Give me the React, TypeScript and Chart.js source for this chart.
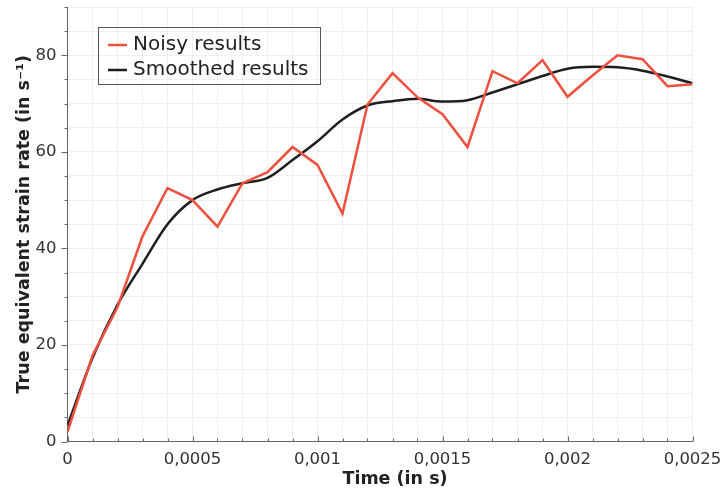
import React, { useEffect, useRef } from "react";
import { Chart, registerables } from "chart.js";

Chart.register(...registerables);

const times = [
  0, 0.0001, 0.0002, 0.0003, 0.0004, 0.0005, 0.0006, 0.0007, 0.0008, 0.0009,
  0.001, 0.0011, 0.0012, 0.0013, 0.0014, 0.0015, 0.0016, 0.0017, 0.0018, 0.0019,
  0.002, 0.0021, 0.0022, 0.0023, 0.0024, 0.0025,
];
const noisy = [
  2, 17.8, 27.8, 42.5, 52.5, 50, 44.5, 53.5, 55.8, 61,
  57.3, 47.2, 69.8, 76.3, 71.3, 67.8, 61, 76.7, 74.2, 79,
  71.4, 75.8, 80, 79.2, 73.6, 74,
];
const smoothed = [
  3.3, 17.3, 28.3, 36.8, 45, 50, 52.2, 53.5, 54.6, 58.3,
  62.2, 66.7, 69.6, 70.5, 71, 70.4, 70.7, 72.3, 74, 75.7,
  77.2, 77.6, 77.5, 76.8, 75.6, 74.2,
];
const seriesNames = ["Noisy results", "Smoothed results"];
const xMajorTicks = [0, 0.0005, 0.001, 0.0015, 0.002, 0.0025];
const xTickLabels = ["0", "0,0005", "0,001", "0,0015", "0,002", "0,0025"];
const yMajorTicks = [0, 20, 40, 60, 80];
const yTickLabels = ["0", "20", "40", "60", "80"];
const xTitle = "Time (in s)";
const yTitle = "True equivalent strain rate (in s\u207B\u00B9)";

const RED = "#ee5040";
const BLACK = "#1e1e1e";
const FONT = "'DejaVu Sans', sans-serif";

function labelFor(value: number, majors: number[], labels: string[]) {
  const i = majors.findIndex((m) => Math.abs(m - value) < 1e-9);
  return i >= 0 ? labels[i] : "";
}

const decorPlugin = {
  id: "decor",
  afterDraw(chart: any) {
    const { ctx, chartArea: a, scales } = chart;
    const x = scales.x;
    const y = scales.y;
    ctx.save();
    ctx.strokeStyle = "#666";
    ctx.lineWidth = 1;
    ctx.beginPath();
    x.ticks.forEach((t: any) => {
      const px = Math.round(x.getPixelForValue(t.value)) + 0.5;
      const major = labelFor(t.value, xMajorTicks, xTickLabels) !== "";
      ctx.moveTo(px, a.bottom);
      ctx.lineTo(px, a.bottom - (major ? 5 : 3));
    });
    y.ticks.forEach((t: any) => {
      const py = Math.round(y.getPixelForValue(t.value)) + 0.5;
      const major = labelFor(t.value, yMajorTicks, yTickLabels) !== "";
      ctx.moveTo(a.left, py);
      ctx.lineTo(a.left - (major ? 6 : 3), py);
    });
    ctx.stroke();

    // x axis title
    ctx.fillStyle = "#222";
    ctx.font = `bold 17.5px ${FONT}`;
    ctx.textAlign = "center";
    ctx.textBaseline = "middle";
    ctx.fillText(xTitle, 395, 479);

    // legend box
    const bx = 98.5, by = 27.5, bw = 222, bh = 57;
    ctx.strokeStyle = "#555";
    ctx.lineWidth = 1;
    ctx.strokeRect(bx, by, bw, bh);
    const rows = [
      { name: seriesNames[0], color: RED, yy: 45 },
      { name: seriesNames[1], color: BLACK, yy: 70 },
    ];
    ctx.font = `20px ${FONT}`;
    ctx.textAlign = "left";
    rows.forEach((r) => {
      ctx.strokeStyle = r.color;
      ctx.lineWidth = 2.5;
      ctx.beginPath();
      ctx.moveTo(108, r.yy);
      ctx.lineTo(127, r.yy);
      ctx.stroke();
      ctx.fillStyle = "#222";
      ctx.fillText(r.name, 133, r.yy);
    });
    ctx.restore();
  },
};

export default function App() {
  const canvasRef = useRef<HTMLCanvasElement | null>(null);

  useEffect(() => {
    if (!canvasRef.current) return;
    const gridColor = "rgba(170,160,130,0.16)";
    const chart = new Chart(canvasRef.current, {
      type: "line",
      data: {
        datasets: [
          {
            label: seriesNames[0],
            data: times.map((t, i) => ({ x: t, y: noisy[i] })),
            borderColor: RED,
            borderWidth: 2.5,
            pointRadius: 0,
            tension: 0,
            fill: false,
          },
          {
            label: seriesNames[1],
            data: times.map((t, i) => ({ x: t, y: smoothed[i] })),
            borderColor: BLACK,
            borderWidth: 2.5,
            pointRadius: 0,
            cubicInterpolationMode: "monotone",
            fill: false,
          },
        ],
      },
      options: {
        animation: false,
        responsive: true,
        maintainAspectRatio: false,
        layout: { padding: { left: 0, top: 7, right: 29.5, bottom: 0 } },
        plugins: {
          legend: { display: false },
          tooltip: { enabled: false },
        },
        scales: {
          x: {
            type: "linear",
            min: 0,
            max: 0.0025,
            afterFit: (s: any) => {
              s.height = 48.5;
              s.paddingLeft = 0;
              s.paddingRight = 0;
            },
            ticks: {
              stepSize: 0.0001,
              autoSkip: false,
              maxRotation: 0,
              minRotation: 0,
              padding: 8,
              color: "#333",
              font: { family: FONT, size: 16.5 },
              callback: (v: any) => labelFor(Number(v), xMajorTicks, xTickLabels),
            },
            grid: { color: gridColor, drawTicks: false },
            border: { display: true, color: "#666", width: 1 },
          },
          y: {
            type: "linear",
            min: 0,
            max: 90,
            afterFit: (s: any) => {
              s.width = 67.5;
              s.paddingTop = 0;
              s.paddingBottom = 0;
            },
            ticks: {
              stepSize: 5,
              autoSkip: false,
              padding: 11,
              color: "#333",
              font: { family: FONT, size: 16.5 },
              callback: (v: any) => labelFor(Number(v), yMajorTicks, yTickLabels),
            },
            grid: { color: gridColor, drawTicks: false },
            border: { display: true, color: "#666", width: 1 },
            title: {
              display: true,
              text: yTitle,
              color: "#222",
              font: { family: FONT, size: 17.5, weight: "bold" },
              padding: { top: 13.5, bottom: 0 },
            },
          },
        },
      },
      plugins: [decorPlugin],
    });
    return () => chart.destroy();
  }, []);

  return (
    <div style={{ position: "absolute", left: 0, top: 0, width: 722, height: 490, background: "#fff" }}>
      <canvas ref={canvasRef} />
    </div>
  );
}
